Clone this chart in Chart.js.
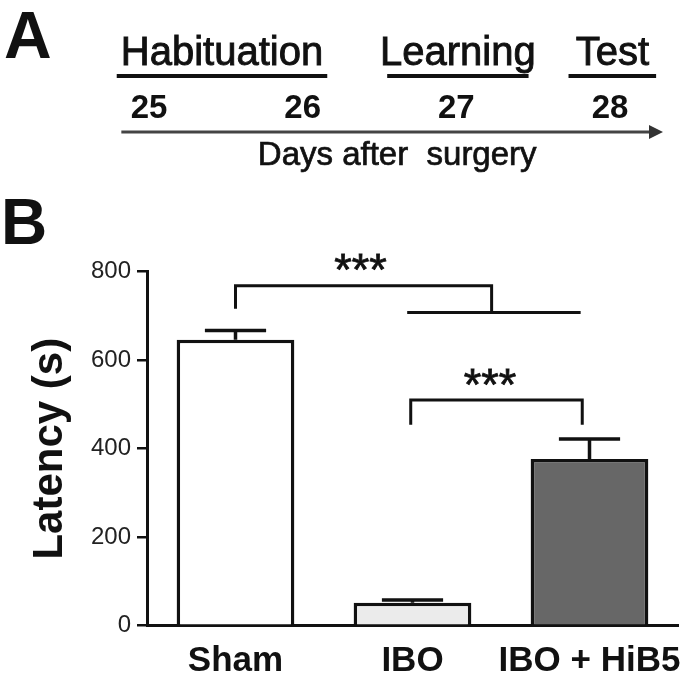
<!DOCTYPE html>
<html>
<head>
<meta charset="utf-8">
<title>Latency after surgery</title>
<script src="https://cdn.jsdelivr.net/npm/chart.js@4.4.1/dist/chart.umd.min.js"></script>
<style>
  body { margin: 0; background: #fff; }
  #wrap { position: relative; width: 700px; height: 681px; }
  #timeline { position: absolute; left: 0; top: 0; }
  #latency { position: absolute; left: 0; top: 185px; }
</style>
</head>
<body>
<div id="wrap">
  <canvas id="timeline" width="700" height="185"></canvas>
  <canvas id="latency" width="700" height="496"></canvas>
</div>
<script>
// panel A: protocol timeline (days after surgery)
const days = [25, 26, 27, 28];
const phases = ['Habituation', 'Learning', 'Test'];
const phaseStart = [24.79, 26.55, 27.73];
const phaseEnd = [26.16, 27.47, 28.30];
const arrowFrom = 24.82;
const arrowTo = 28.345;

// panel B: latency per group
const groups = ['Sham', 'IBO', 'IBO + HiB5'];
const latency = [646, 52, 377];
const latencyErr = [667, 58, 422];
const yTicks = [0, 200, 400, 600, 800];

// significance brackets, points as [group index, latency]
const brackets = [
  [[0, 716], [0, 768], [1.447, 768], [1.447, 708]],
  [[0.97, 708], [1.95, 708]],
  [[0.99, 454], [0.99, 510], [1.959, 510], [1.959, 454]]
];
const stars = ['***', '***'];
const starAt = [[0.706, 815], [1.438, 556]];

const ink = '#111';
const family = '"Liberation Sans", Arial, Helvetica, sans-serif';
Chart.defaults.font.family = family;
Chart.defaults.color = ink;

// rows of the timeline, in its own y units (top = 0)
const rows = { phaseText: 65, phaseLine: 76, dayText: 118, arrow: 132, caption: 165 };

// fill plus a thin stroke, the source lettering is a bit heavier than regular
const heavyText = (ctx, text, x, y, w) => {
  ctx.lineWidth = w;
  ctx.strokeStyle = ctx.fillStyle;
  ctx.fillText(text, x, y);
  ctx.strokeText(text, x, y);
};

const timelineText = {
  id: 'timelineText',
  afterDraw(chart) {
    const { ctx, scales: { x, y } } = chart;
    ctx.save();
    ctx.fillStyle = ink;
    ctx.textBaseline = 'alphabetic';

    ctx.font = `bold 66px ${family}`;
    ctx.textAlign = 'left';
    ctx.fillText('A', 4, 58);

    ctx.textAlign = 'center';
    ctx.font = `40px ${family}`;
    phases.forEach((p, i) => {
      const cx = (x.getPixelForValue(phaseStart[i]) + x.getPixelForValue(phaseEnd[i])) / 2;
      heavyText(ctx, p, cx, y.getPixelForValue(rows.phaseText), 0.9);
    });

    ctx.font = `bold 33px ${family}`;
    days.forEach(d => ctx.fillText(String(d), x.getPixelForValue(d), y.getPixelForValue(rows.dayText)));

    ctx.font = `33px ${family}`;
    const mid = (x.getPixelForValue(arrowFrom) + x.getPixelForValue(arrowTo)) / 2 + 5;
    heavyText(ctx, 'Days after  surgery', mid, y.getPixelForValue(rows.caption), 0.7);

    // arrow head
    const tipX = x.getPixelForValue(arrowTo);
    const tipY = y.getPixelForValue(rows.arrow);
    ctx.fillStyle = '#333';
    ctx.beginPath();
    ctx.moveTo(tipX, tipY);
    ctx.lineTo(tipX - 14, tipY - 7);
    ctx.lineTo(tipX - 14, tipY + 7);
    ctx.closePath();
    ctx.fill();
    ctx.restore();
  }
};

const phaseSets = phases.map((p, i) => ({
  label: p,
  data: [{ x: phaseStart[i], y: rows.phaseLine }, { x: phaseEnd[i], y: rows.phaseLine }],
  borderColor: ink,
  borderWidth: 4,
  pointRadius: 0
}));

new Chart(document.getElementById('timeline'), {
  type: 'line',
  data: {
    datasets: [
      ...phaseSets,
      {
        label: 'days',
        data: [{ x: arrowFrom, y: rows.arrow }, { x: arrowTo - 0.05, y: rows.arrow }],
        borderColor: '#444',
        borderWidth: 3,
        pointRadius: 0
      }
    ]
  },
  options: {
    responsive: false,
    animation: false,
    layout: { padding: 0 },
    plugins: { legend: { display: false }, tooltip: { enabled: false } },
    scales: {
      x: { type: 'linear', min: 24.0304, max: 28.5856, display: false },
      y: { type: 'linear', min: 0, max: 185, reverse: true, display: false }
    }
  },
  plugins: [timelineText]
});

const errorBars = {
  id: 'errorBars',
  afterDatasetsDraw(chart) {
    const { ctx, scales: { y } } = chart;
    const meta = chart.getDatasetMeta(0);
    ctx.save();
    ctx.strokeStyle = ink;
    ctx.lineWidth = 3.5;
    meta.data.forEach((bar, i) => {
      const top = y.getPixelForValue(latencyErr[i]);
      const half = bar.width * 0.26;
      ctx.beginPath();
      ctx.moveTo(bar.x, bar.y);
      ctx.lineTo(bar.x, top);
      ctx.moveTo(bar.x - half, top);
      ctx.lineTo(bar.x + half, top);
      ctx.stroke();
    });
    ctx.restore();
  }
};

const significance = {
  id: 'significance',
  afterDraw(chart) {
    const { ctx, scales: { x, y } } = chart;
    ctx.save();
    ctx.strokeStyle = ink;
    ctx.lineWidth = 3;
    brackets.forEach(pts => {
      ctx.beginPath();
      pts.forEach(([gx, v], k) => {
        const px = x.getPixelForValue(gx);
        const py = y.getPixelForValue(v);
        if (k === 0) ctx.moveTo(px, py); else ctx.lineTo(px, py);
      });
      ctx.stroke();
    });
    ctx.fillStyle = ink;
    ctx.font = `45px ${family}`;
    ctx.textAlign = 'center';
    ctx.textBaseline = 'middle';
    stars.forEach((s, i) => {
      const [gx, v] = starAt[i];
      heavyText(ctx, s, x.getPixelForValue(gx), y.getPixelForValue(v) + 8, 0.8);
    });

    ctx.font = `bold 64px ${family}`;
    ctx.textAlign = 'left';
    ctx.textBaseline = 'alphabetic';
    ctx.fillText('B', 1, 59);
    ctx.restore();
  }
};

new Chart(document.getElementById('latency'), {
  type: 'bar',
  data: {
    labels: groups,
    datasets: [{
      label: 'Latency (s)',
      data: latency,
      backgroundColor: ['#ffffff', '#ebebeb', '#676767'],
      borderColor: ink,
      borderWidth: 3.5,
      categoryPercentage: 1,
      barPercentage: 0.665
    }]
  },
  options: {
    responsive: false,
    animation: false,
    layout: { padding: { top: 86.7, right: 22, left: 0, bottom: 0 } },
    plugins: { legend: { display: false }, tooltip: { enabled: false } },
    scales: {
      x: {
        grid: { display: false, drawTicks: false },
        border: { display: true, color: ink, width: 3 },
        ticks: { font: { size: 35, weight: 'bold' }, color: ink, padding: 15, maxRotation: 0, autoSkip: false },
        afterFit: s => { s.height = 55.3; }
      },
      y: {
        min: 0,
        max: 800,
        afterBuildTicks: s => { s.ticks = yTicks.map(v => ({ value: v })); },
        grid: { drawOnChartArea: false, drawTicks: true, tickLength: 10, color: ink, lineWidth: 2.5 },
        border: { display: true, color: ink, width: 3 },
        ticks: { font: { size: 24 }, color: '#222', padding: 6 },
        title: {
          display: true,
          text: 'Latency (s)',
          font: { size: 42, weight: 'bold' },
          color: ink,
          padding: { top: 25, bottom: 0 }
        },
        afterFit: s => { s.width = 147; }
      }
    }
  },
  plugins: [errorBars, significance]
});
</script>
</body>
</html>
